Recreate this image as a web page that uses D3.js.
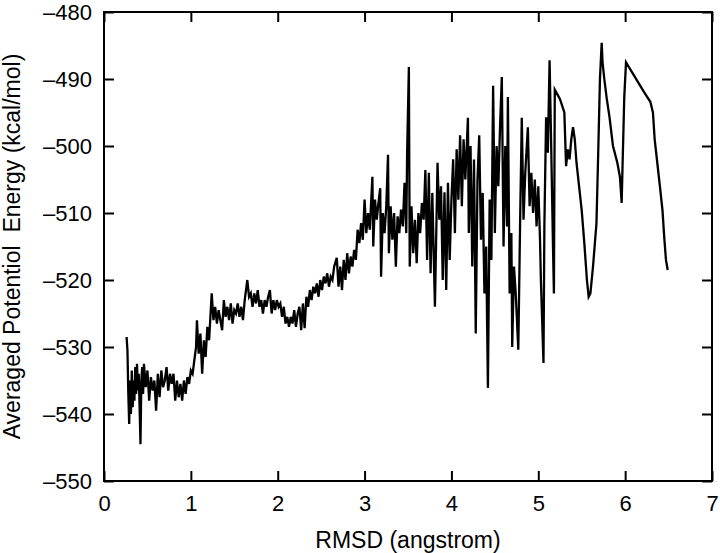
<!DOCTYPE html>
<html>
<head>
<meta charset="utf-8">
<script src="https://cdn.jsdelivr.net/npm/d3@7"></script>
<style>
  body { margin: 0; background: #fff; }
  text { font-family: "Liberation Sans", Arial, Helvetica, sans-serif; fill: #000; }
</style>
</head>
<body>
<div id="chart"></div>
<script>
// RMSD vs averaged potential energy

var xTicks = [0, 1, 2, 3, 4, 5, 6, 7];
var yTicks = [-550, -540, -530, -520, -510, -500, -490, -480];

var rmsd = [
  0.26, 0.27, 0.28, 0.29, 0.30, 0.31, 0.32, 0.33, 0.34, 0.35, 0.36, 0.37, 0.38, 0.39, 0.40,
  0.41, 0.42, 0.43, 0.44, 0.45, 0.46, 0.48, 0.50, 0.52, 0.54, 0.56, 0.58, 0.60, 0.62, 0.64,
  0.66, 0.68, 0.70, 0.72, 0.74, 0.76, 0.78, 0.80, 0.82, 0.84, 0.86, 0.88, 0.90, 0.92, 0.94,
  0.96, 0.98, 1.00, 1.02, 1.04, 1.06,
  1.07, 1.09, 1.11, 1.13, 1.15, 1.17, 1.19, 1.21, 1.24, 1.26, 1.28, 1.30, 1.32, 1.34, 1.36,
  1.38, 1.40, 1.42, 1.44, 1.46, 1.48, 1.50, 1.52, 1.54, 1.56, 1.58, 1.60, 1.62, 1.65, 1.67,
  1.69, 1.71, 1.73, 1.75, 1.77, 1.79, 1.81, 1.83, 1.85, 1.87, 1.89, 1.91, 1.93, 1.95, 1.97,
  1.99, 2.01, 2.03, 2.05, 2.07, 2.09, 2.11, 2.13, 2.15, 2.17, 2.19, 2.21, 2.23, 2.25, 2.27,
  2.29, 2.31, 2.33, 2.35, 2.37, 2.39, 2.41, 2.43, 2.45, 2.47, 2.49, 2.51, 2.53, 2.55, 2.57,
  2.59, 2.61, 2.63, 2.65, 2.68,
  2.70, 2.72, 2.74, 2.76, 2.78, 2.80, 2.82, 2.84, 2.86, 2.88, 2.90, 2.92, 2.94, 2.96, 2.98,
  3.00, 3.02, 3.04, 3.06, 3.09, 3.10, 3.12, 3.14, 3.16, 3.18, 3.19, 3.21, 3.23, 3.25, 3.27,
  3.28, 3.30, 3.32, 3.34, 3.36, 3.38, 3.40, 3.42, 3.44, 3.46, 3.48, 3.49, 3.51, 3.52, 3.54,
  3.56, 3.58, 3.60, 3.62, 3.64, 3.66, 3.68, 3.70, 3.72, 3.74, 3.76, 3.78, 3.81, 3.84, 3.86,
  3.88, 3.90, 3.92, 3.94, 3.96, 3.98, 4.00, 4.02, 4.04, 4.06, 4.08, 4.10, 4.12, 4.14, 4.16,
  4.19, 4.20, 4.22, 4.24, 4.26, 4.28, 4.30, 4.32, 4.34, 4.36, 4.38, 4.40, 4.42, 4.44, 4.46,
  4.48, 4.50, 4.52, 4.54, 4.56, 4.58, 4.60, 4.62, 4.64, 4.65, 4.67, 4.69, 4.70, 4.72, 4.74,
  4.77, 4.79, 4.81, 4.83, 4.85, 4.88, 4.90, 4.92, 4.94, 4.96, 4.98, 5.00, 5.02, 5.03, 5.06,
  5.07, 5.09, 5.11, 5.13, 5.15, 5.17, 5.18, 5.19, 5.22, 5.25, 5.28, 5.30, 5.32, 5.34, 5.36,
  5.38, 5.40, 5.42, 5.44, 5.50, 5.53, 5.56, 5.58, 5.60, 5.63, 5.67, 5.69, 5.71, 5.73, 5.74,
  5.76, 5.79, 5.82, 5.86, 5.91, 5.94, 5.96, 5.97, 5.99, 6.01, 6.08, 6.15, 6.22, 6.29, 6.32,
  6.34, 6.37, 6.40, 6.43, 6.45, 6.47, 6.49
];

var energy = [
  -528.5, -530.5, -537, -541.5, -535, -540, -533.5, -539, -535, -538, -533, -537, -532.5, -536.5, -534,
  -539, -544.5, -535, -533, -537, -532.5, -536, -533.5, -538, -534.5, -536.5, -535, -539.5, -534, -537.5,
  -533.5, -536, -535, -533, -536.5, -534, -535.5, -534, -538, -535, -537.5, -535.5, -538, -535, -537,
  -534.5, -535.5, -533.5, -534, -532, -530,
  -526, -531, -528, -534, -529, -531.5, -527, -529, -522, -526, -524, -526.5, -524.5, -526, -527.5,
  -523, -525.5, -524, -526, -523.5, -526.5, -524.5, -525, -523.5, -525.5, -524, -526, -523, -520, -522.5,
  -522, -524, -522, -523.5, -521.5, -524, -523, -525, -523, -524, -522.5, -521.5, -525, -523, -524.5,
  -523, -524, -523.5, -525.5, -524, -526.5, -525.5, -527, -525.5, -526.5, -524.5, -527, -525, -524, -527.5,
  -523.5, -527.2, -522.5, -524, -521.5, -523, -521, -522, -520.5, -522.5, -520, -521.5, -519.5, -520.5, -519,
  -521, -519.5, -520, -518, -516.7,
  -521, -518, -521.5, -517, -520, -516, -519, -516.5, -518, -515.5, -517, -512.5, -514.5, -511.5, -514,
  -508, -513, -510, -512.5, -504.6, -515, -508, -511, -508.5, -506.3, -519.5, -510, -513, -509, -501.3,
  -516, -509, -514, -510, -518, -510.5, -513, -509.5, -512, -505.5, -513, -501, -488.2, -518, -509,
  -516, -511, -517.5, -510, -513, -508.5, -511, -503.6, -517, -504, -519, -507, -524, -502.5, -511,
  -506, -520, -506.9, -521.5, -505.5, -517, -508, -502, -513, -500.5, -508, -498.4, -509, -499, -505,
  -495.8, -513, -500, -518, -502, -528, -505, -498.4, -514, -507, -522, -515, -536.1, -508, -517,
  -491, -513, -500, -506, -497, -489.7, -515, -500, -512, -492.7, -522, -513, -530, -518, -522,
  -530.4, -512, -495.8, -511, -504, -497.2, -509, -504, -510, -505, -512, -506, -514, -520, -532.4,
  -512, -495.7, -501, -487.2, -501, -515.5, -522, -491.6, -492.3, -493, -494.2, -495, -503, -500.5, -502,
  -499, -497.2, -499, -502.5, -509.6, -514.5, -520, -522.5, -522, -518, -511.5, -501, -490, -484.6, -487.5,
  -490, -493.1, -495.7, -500, -502.5, -504.6, -508.5, -503, -492.7, -487.5, -489, -490.5, -492, -493.4, -495,
  -499, -502.5, -506, -509.6, -513.6, -517, -518.5
];

var data = rmsd.map(function (d, i) { return { x: d, y: energy[i] }; });

var W = 720, H = 553;
var plotLeft = 104, plotRight = 712, plotTop = 12, plotBottom = 481;

var svg = d3.select("#chart").append("svg")
  .attr("width", W)
  .attr("height", H);

var x = d3.scaleLinear().domain([0, 7]).range([plotLeft, plotRight]);
var y = d3.scaleLinear().domain([-550, -480]).range([plotBottom, plotTop]);

var fmt = function (d) { return String(d).replace("-", "\u2013"); };

// axes, ticks pointing inward on all four sides
svg.append("g")
  .attr("transform", "translate(0," + plotBottom + ")")
  .call(d3.axisBottom(x).tickValues(xTicks).tickSize(-10).tickPadding(14).tickFormat(d3.format("d")));
svg.append("g")
  .attr("transform", "translate(0," + plotTop + ")")
  .call(d3.axisTop(x).tickValues(xTicks).tickSize(-10).tickFormat(""));
svg.append("g")
  .attr("transform", "translate(" + plotLeft + ",0)")
  .call(d3.axisLeft(y).tickValues(yTicks).tickSize(-10).tickPadding(12).tickFormat(fmt));
svg.append("g")
  .attr("transform", "translate(" + plotRight + ",0)")
  .call(d3.axisRight(y).tickValues(yTicks).tickSize(-10).tickFormat(""));

svg.selectAll(".domain").remove();
svg.selectAll(".tick line").attr("stroke", "#000").attr("stroke-width", 2);
svg.selectAll(".tick text")
  .attr("font-size", "22px")
  .style("font-family", "'Liberation Sans', Arial, Helvetica, sans-serif")
  .attr("fill", "#000");

svg.append("rect")
  .attr("x", plotLeft)
  .attr("y", plotTop)
  .attr("width", plotRight - plotLeft)
  .attr("height", plotBottom - plotTop)
  .attr("fill", "none")
  .attr("stroke", "#000")
  .attr("stroke-width", 2);

var line = d3.line()
  .x(function (d) { return x(d.x); })
  .y(function (d) { return y(d.y); });

svg.append("path")
  .datum(data)
  .attr("d", line)
  .attr("fill", "none")
  .attr("stroke", "#000")
  .attr("stroke-width", 2.3)
  .attr("stroke-linejoin", "miter");

// axis titles
svg.append("text")
  .attr("x", (plotLeft + plotRight) / 2)
  .attr("y", 548)
  .attr("text-anchor", "middle")
  .attr("font-size", "23px")
  .text("RMSD (angstrom)");

svg.append("text")
  .attr("transform", "translate(20," + ((plotTop + plotBottom) / 2) + ") rotate(-90)")
  .attr("text-anchor", "middle")
  .attr("font-size", "23px")
  .style("white-space", "pre")
  .text("Averaged Potentiol  Energy (kcal/mol)");
</script>
</body>
</html>
